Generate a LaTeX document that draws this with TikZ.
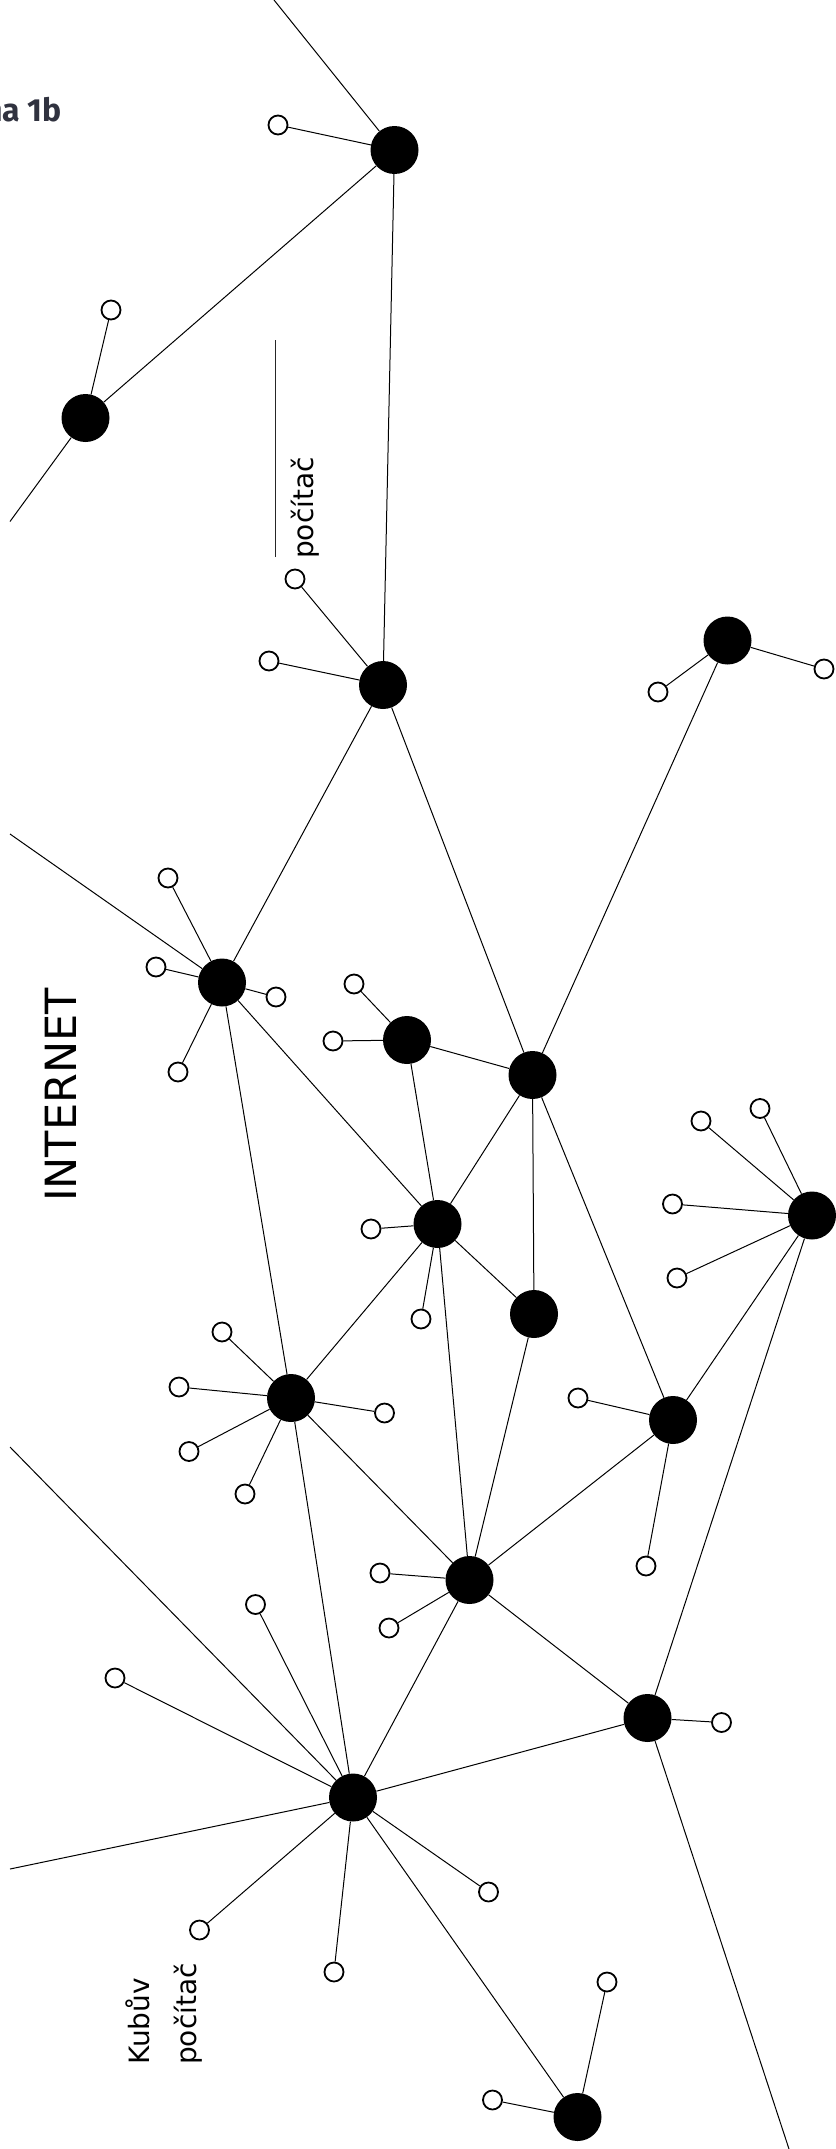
\documentclass[tikz,border=0pt]{standalone}
\usepackage{fontspec}
\setmainfont{DejaVu Sans}
\newfontfamily\headfont{Fira Sans}
\definecolor{headcol}{HTML}{30323F}
\begin{document}
\begin{tikzpicture}[x=1pt,y=-1pt,
  hub/.style={circle,fill=black,minimum size=48pt,inner sep=0pt},
  pc/.style={circle,draw=black,fill=white,line width=1.8pt,minimum size=19pt,inner sep=0pt},
  link/.style={line width=1pt},
  lbl/.style={rotate=90,inner sep=0pt,font=\fontsize{28}{34}\selectfont},
  writeline/.style={line width=1.4pt,black!85}
]
\useasboundingbox (0,0) rectangle (835,2149);

% hubs
\node[hub] (hA) at (394.5,150) {};
\node[hub] (hB) at (85.5,418) {};
\node[hub] (hC) at (383,685) {};
\node[hub] (hD) at (727.5,640.5) {};
\node[hub] (hE) at (222,982.5) {};
\node[hub] (hF) at (407,1040) {};
\node[hub] (hG) at (532.5,1075) {};
\node[hub] (hH) at (437.5,1224) {};
\node[hub] (hI) at (534,1314) {};
\node[hub] (hJ) at (812,1215.5) {};
\node[hub] (hK) at (291,1398) {};
\node[hub] (hL) at (673,1420) {};
\node[hub] (hM) at (469.5,1580) {};
\node[hub] (hN) at (647.5,1718) {};
\node[hub] (hO) at (353,1797.5) {};
\node[hub] (hP) at (577.5,2117) {};

% free ends
\coordinate (tA) at (274,0);
\coordinate (eB) at (10,521.5);
\coordinate (eE) at (10,834);
\coordinate (eO1) at (10,1447);
\coordinate (eO2) at (10,1869);
\coordinate (eN) at (789,2149);

% computers
\node[pc] (a1) at (278,125) {};
\node[pc] (b1) at (111,310) {};
\node[pc] (c1) at (295,579) {};
\node[pc] (c2) at (269,661) {};
\node[pc] (d1) at (658,692) {};
\node[pc] (d2) at (824,669) {};
\node[pc] (e1) at (168,878) {};
\node[pc] (e2) at (156,967) {};
\node[pc] (e3) at (276,997) {};
\node[pc] (e4) at (178,1072) {};
\node[pc] (f1) at (354,984) {};
\node[pc] (f2) at (333,1041) {};
\node[pc] (h1) at (371,1229) {};
\node[pc] (h2) at (421,1319) {};
\node[pc] (j1) at (760,1108.5) {};
\node[pc] (j2) at (701,1121) {};
\node[pc] (j3) at (672.5,1204) {};
\node[pc] (j4) at (677,1278) {};
\node[pc] (k1) at (222,1332) {};
\node[pc] (k2) at (179,1387) {};
\node[pc] (k3) at (189,1451.5) {};
\node[pc] (k4) at (245,1494) {};
\node[pc] (k5) at (384.5,1413) {};
\node[pc] (l1) at (578,1398) {};
\node[pc] (l2) at (646,1566) {};
\node[pc] (m1) at (380,1573) {};
\node[pc] (m2) at (389,1628) {};
\node[pc] (n1) at (721.5,1722.5) {};
\node[pc] (o1) at (255.5,1604.5) {};
\node[pc] (o2) at (115,1678) {};
\node[pc] (o3) at (199.5,1930) {};
\node[pc] (o4) at (334,1972) {};
\node[pc] (o5) at (488.5,1892) {};
\node[pc] (p1) at (607,1982) {};
\node[pc] (p2) at (492.5,2100) {};

% backbone links
\draw[link] (tA) -- (hA);
\draw[link] (hA) -- (hB);
\draw[link] (hA) -- (hC);
\draw[link] (hB) -- (eB);
\draw[link] (hC) -- (hE);
\draw[link] (hC) -- (hG);
\draw[link] (hD) -- (hG);
\draw[link] (hE) -- (eE);
\draw[link] (hE) -- (hH);
\draw[link] (hE) -- (hK);
\draw[link] (hF) -- (hG);
\draw[link] (hF) -- (hH);
\draw[link] (hG) -- (hH);
\draw[link] (hG) -- (hI);
\draw[link] (hG) -- (hL);
\draw[link] (hH) -- (hI);
\draw[link] (hH) -- (hK);
\draw[link] (hH) -- (hM);
\draw[link] (hI) -- (hM);
\draw[link] (hJ) -- (hL);
\draw[link] (hJ) -- (hN);
\draw[link] (hK) -- (hM);
\draw[link] (hK) -- (hO);
\draw[link] (hL) -- (hM);
\draw[link] (hM) -- (hN);
\draw[link] (hM) -- (hO);
\draw[link] (hN) -- (hO);
\draw[link] (hN) -- (eN);
\draw[link] (hO) -- (eO1);
\draw[link] (hO) -- (eO2);
\draw[link] (hO) -- (hP);

% computer links
\draw[link] (a1) -- (hA);
\draw[link] (b1) -- (hB);
\draw[link] (c1) -- (hC);
\draw[link] (c2) -- (hC);
\draw[link] (d1) -- (hD);
\draw[link] (d2) -- (hD);
\foreach \w in {e1,e2,e3,e4} \draw[link] (\w) -- (hE);
\foreach \w in {f1,f2} \draw[link] (\w) -- (hF);
\foreach \w in {h1,h2} \draw[link] (\w) -- (hH);
\foreach \w in {j1,j2,j3,j4} \draw[link] (\w) -- (hJ);
\foreach \w in {k1,k2,k3,k4,k5} \draw[link] (\w) -- (hK);
\foreach \w in {l1,l2} \draw[link] (\w) -- (hL);
\foreach \w in {m1,m2} \draw[link] (\w) -- (hM);
\draw[link] (n1) -- (hN);
\foreach \w in {o1,o2,o3,o4,o5} \draw[link] (\w) -- (hO);
\foreach \w in {p1,p2} \draw[link] (\w) -- (hP);

% labels
\node[anchor=base east,inner sep=0pt,text=headcol,font=\headfont\bfseries\fontsize{32}{36}\selectfont] (head) at (62,121) {na 1b};
\node[rotate=90,inner sep=0pt,font=\fontsize{43}{50}\selectfont] (inet) at (60.5,1095) {INTERNET};
\coordinate (wl1) at (275.5,557);
\coordinate (wl2) at (275.5,340);
\draw[writeline] (wl1) -- (wl2);
\node[lbl,anchor=base west] (pcl) at (313.5,559) {počítač};
\node[lbl,anchor=base west] (kub1) at (149.5,2065) {Kubův};
\node[lbl,anchor=base west] (kub2) at (196.7,2065) {počítač};
\end{tikzpicture}
\end{document}
